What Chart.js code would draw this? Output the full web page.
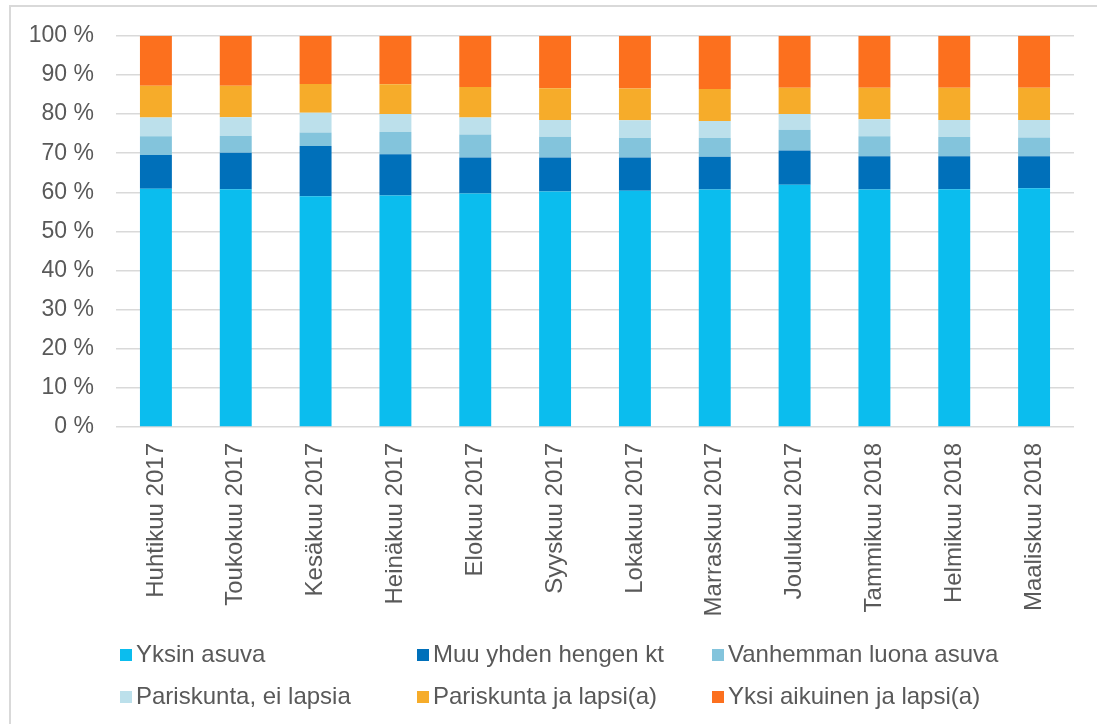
<!DOCTYPE html>
<html lang="fi">
<head>
  <meta charset="UTF-8">
  <title>Kotitaloudet</title>
  <style>
    html, body { margin: 0; padding: 0; background: #fff; overflow: hidden; }
    body { width: 1097px; height: 724px; position: relative; font-family: "Liberation Sans", Arial, sans-serif; }
    #frame { position: absolute; left: 9px; top: 5px; width: 1200px; height: 900px; border: 2px solid #d9d9d9; }
    #wrap { position: absolute; left: 0; top: 0; width: 1097px; height: 724px; }
    .legend { position: absolute; font-size: 24px; color: #595959; white-space: nowrap; }
    .legend span.box { display: inline-block; width: 12px; height: 12px; margin-right: 4px; vertical-align: 1px; }
  </style>
  <script src="https://cdn.jsdelivr.net/npm/chart.js"></script>
</head>
<body>
  <div id="frame"></div>
  <div id="wrap"><canvas id="chart" width="1097" height="724"></canvas></div>
  <div id="legend"></div>

  <script>
    const months = ['Huhtikuu 2017', 'Toukokuu 2017', 'Kesäkuu 2017', 'Heinäkuu 2017', 'Elokuu 2017', 'Syyskuu 2017',
                    'Lokakuu 2017', 'Marraskuu 2017', 'Joulukuu 2017', 'Tammikuu 2018', 'Helmikuu 2018', 'Maaliskuu 2018'];

    const yksinAsuva    = [60.9, 60.8, 59.0, 59.2, 59.7, 60.2, 60.4, 60.7, 61.9, 60.7, 60.8, 61.0];
    const muuYhden      = [8.6, 9.3, 12.8, 10.5, 9.2, 8.7, 8.5, 8.4, 8.8, 8.5, 8.4, 8.2];
    const vanhemman     = [4.8, 4.3, 3.5, 5.7, 5.9, 5.3, 5.0, 4.8, 5.3, 5.1, 4.9, 4.8];
    const pariEiLapsia  = [4.8, 4.8, 5.0, 4.6, 4.3, 4.3, 4.5, 4.3, 4.0, 4.4, 4.4, 4.5];
    const pariJaLapsi   = [8.1, 8.0, 7.4, 7.6, 7.8, 8.1, 8.1, 8.2, 6.7, 8.0, 8.2, 8.2];
    const yksiAikuinen  = [12.8, 12.8, 12.3, 12.4, 13.1, 13.4, 13.5, 13.6, 13.3, 13.3, 13.3, 13.3];

    const yTicks = [0, 10, 20, 30, 40, 50, 60, 70, 80, 90, 100];

    const series = [
      { label: 'Yksin asuva', data: yksinAsuva, color: '#0bbdee' },
      { label: 'Muu yhden hengen kt', data: muuYhden, color: '#0070ba' },
      { label: 'Vanhemman luona asuva', data: vanhemman, color: '#83c4dc' },
      { label: 'Pariskunta, ei lapsia', data: pariEiLapsia, color: '#bce0eb' },
      { label: 'Pariskunta ja lapsi(a)', data: pariJaLapsi, color: '#f6ac2a' },
      { label: 'Yksi aikuinen ja lapsi(a)', data: yksiAikuinen, color: '#fc701e' }
    ];

    const textColor = '#595959';
    const family = '"Liberation Sans", Arial, sans-serif';

    new Chart(document.getElementById('chart'), {
      type: 'bar',
      data: {
        labels: months,
        datasets: series.map(s => ({
          label: s.label,
          data: s.data,
          backgroundColor: s.color,
          borderWidth: 0,
          categoryPercentage: 1,
          barPercentage: 0.4
        }))
      },
      options: {
        responsive: false,
        animation: false,
        layout: { padding: { top: 35, right: 23, left: 0, bottom: 0 } },
        plugins: { legend: { display: false }, tooltip: { enabled: false } },
        scales: {
          x: {
            stacked: true,
            grid: { display: false },
            border: { display: false },
            ticks: { color: textColor, font: { family: family, size: 24 }, minRotation: 90, maxRotation: 90, padding: 8, autoSkip: false },
            afterFit: axis => { axis.height = 297; }
          },
          y: {
            stacked: true,
            min: 0,
            max: 100,
            afterBuildTicks: axis => { axis.ticks = yTicks.map(v => ({ value: v })); },
            grid: { color: '#d9d9d9', lineWidth: 1.5, drawTicks: false },
            border: { display: false },
            ticks: { color: textColor, font: { family: family, size: 23 }, padding: 22, callback: v => v + ' %' },
            afterFit: axis => { axis.width = 116; }
          }
        }
      }
    });

    // legend in three columns like the original
    const legendCols = [120, 417, 712];
    const legendRows = [640, 682];
    const legend = document.getElementById('legend');
    series.forEach((s, i) => {
      const el = document.createElement('div');
      el.className = 'legend';
      el.style.left = legendCols[i % 3] + 'px';
      el.style.top = legendRows[Math.floor(i / 3)] + 'px';
      el.innerHTML = '<span class="box" style="background:' + s.color + '"></span>' + s.label;
      legend.appendChild(el);
    });
  </script>
</body>
</html>
